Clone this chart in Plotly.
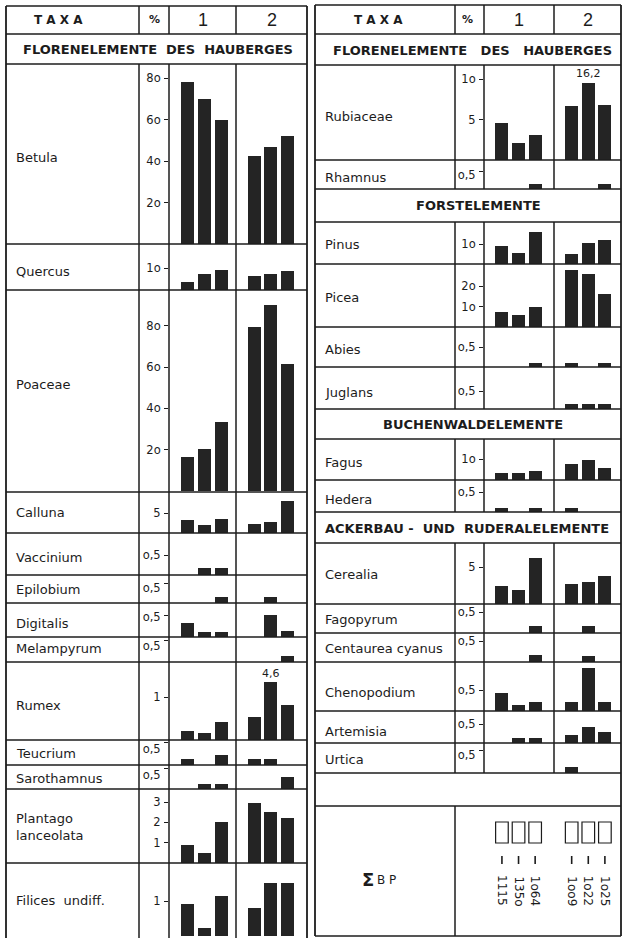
import plotly.graph_objects as go

W, H = 624, 938

# ---- pollen percentages, samples 1a 1b 1c | 2a 2b 2c ----
BETULA = [78, 70, 60, 42.4, 46.7, 52]
QUERCUS = [3.6, 7.3, 9.1, 6.4, 7.3, 8.6]
POACEAE = [16.5, 20.3, 33.4, 79.4, 90, 61.5]
CALLUNA = [3.2, 2.0, 3.5, 2.2, 2.8, 8.0]
VACCINIUM = [0, 0.17, 0.17, 0, 0, 0]
EPILOBIUM = [0, 0, 0.15, 0, 0.15, 0]
DIGITALIS = [0.32, 0.11, 0.11, 0, 0.5, 0.14]
MELAMPYRUM = [0, 0, 0, 0, 0, 0.14]
RUMEX = [0.21, 0.16, 0.42, 0.53, 4.6, 0.81]
TEUCRIUM = [0.13, 0, 0.22, 0.13, 0.13, 0]
SAROTHAMNUS = [0, 0.12, 0.12, 0, 0, 0.29]
PLANTAGO = [0.9, 0.5, 2.0, 2.95, 2.5, 2.2]
FILICES = [0.91, 0.23, 1.14, 0.8, 1.51, 1.51]

RUBIACEAE = [4.6, 2.1, 3.1, 6.7, 16.2, 6.8]
RHAMNUS = [0, 0, 0.14, 0, 0, 0.14]
PINUS = [9, 5.5, 16, 5, 10.5, 12]
PICEA = [7.3, 5.9, 9.8, 27.8, 25.9, 16.1]
ABIES = [0, 0, 0.1, 0.1, 0, 0.1]
JUGLANS = [0, 0, 0, 0.14, 0.14, 0.14]
FAGUS = [3.3, 3.3, 4.3, 7.6, 9.5, 5.7]
HEDERA = [0.1, 0, 0.1, 0.1, 0, 0]
CEREALIA = [2.4, 1.9, 6.2, 2.7, 3.0, 3.8]
FAGOPYRUM = [0, 0, 0.17, 0, 0.17, 0]
CENTAUREA = [0, 0, 0.17, 0, 0.14, 0]
CHENOPODIUM = [0.43, 0.14, 0.21, 0.21, 1.02, 0.21]
ARTEMISIA = [0, 0.13, 0.13, 0.21, 0.42, 0.29]
URTICA = [0, 0, 0, 0.13, 0, 0]

BP_SUMS = [1115, 1350, 1064, 1009, 1022, 1025]

# ---- table geometry (pixels) ----
INK = "#1c1c1c"
BAR = "#242424"
FONT = "DejaVu Sans"

LEFT = dict(x0=6, tax=139, pct=169, mid=236, x1=307,
            slots=[0, 1, 2, 4, 5, 6], xr=[-1.14, 7.17])
RIGHT = dict(x0=315, tax=455, pct=484, mid=554, x1=621,
             slots=[0, 1, 2, 4.2, 5.2, 6.2], xr=[-1.08, 7.17])
BAR_W = 0.78


def fx(px):
    return px / W


def fy(py):
    return 1 - py / H


def tk(*pairs):
    return list(pairs)


# label, values, panel, top, bottom, px per unit, ticks, tick label drop, clip px, label y
ROWS = [
    ("Betula", BETULA, LEFT, 64, 244, 2.075, tk((20, "2o"), (40, "4o"), (60, "6o"), (80, "8o")), 0, None, 157),
    ("Quercus", QUERCUS, LEFT, 244, 290, 2.2, tk((10, "1o"),), 0, None, 271),
    ("Poaceae", POACEAE, LEFT, 290, 491, 2.065, tk((20, "2o"), (40, "4o"), (60, "6o"), (80, "8o")), 0, None, 384),
    ("Calluna", CALLUNA, LEFT, 492, 533, 4.0, tk((5, "5"),), 0, None, 512),
    ("Vaccinium", VACCINIUM, LEFT, 533, 575, 40, tk((0.5, "o,5"),), 0, None, 557),
    ("Epilobium", EPILOBIUM, LEFT, 575, 603, 40, tk((0.5, "o,5"),), 5, None, 589),
    ("Digitalis", DIGITALIS, LEFT, 603, 637, 44, tk((0.5, "o,5"),), 2, None, 623),
    ("Melampyrum", MELAMPYRUM, LEFT, 637, 662, 44, tk((0.5, "o,5"),), 6, None, 648),
    ("Rumex", RUMEX, LEFT, 662, 740, 43, tk((1, "1"),), 0, 682, 705),
    ("Teucrium", TEUCRIUM, LEFT, 740, 765, 46, tk((0.5, "o,5"),), 7, None, 753),
    ("Sarothamnus", SAROTHAMNUS, LEFT, 765, 789, 42, tk((0.5, "o,5"),), 7, None, 778),
    ("Plantago<br>lanceolata", PLANTAGO, LEFT, 789, 863, 20.3, tk((1, "1"), (2, "2"), (3, "3")), 0, None, 827),
    ("Filices  undiff.", FILICES, LEFT, 863, 936, 35, tk((1, "1"),), 0, None, 900),

    ("Rubiaceae", RUBIACEAE, RIGHT, 65, 160, 8.1, tk((5, "5"), (10, "1o")), 0, 83, 117),
    ("Rhamnus", RHAMNUS, RIGHT, 160, 189, 36, tk((0.5, "o,5"),), 4, None, 177),
    ("Pinus", PINUS, RIGHT, 222, 264, 2.0, tk((10, "1o"),), 0, None, 245),
    ("Picea", PICEA, RIGHT, 264, 327, 2.05, tk((10, "1o"), (20, "2o")), 0, None, 297),
    ("Abies", ABIES, RIGHT, 327, 367, 40, tk((0.5, "o,5"),), 0, None, 350),
    ("Juglans", JUGLANS, RIGHT, 367, 409, 36, tk((0.5, "o,5"),), 0, None, 392),
    ("Fagus", FAGUS, RIGHT, 439, 480, 2.1, tk((10, "1o"),), 0, None, 462),
    ("Hedera", HEDERA, RIGHT, 480, 512, 40, tk((0.5, "o,5"),), 0, None, 499),
    ("Cerealia", CEREALIA, RIGHT, 543, 604, 7.4, tk((5, "5"),), 0, None, 574),
    ("Fagopyrum", FAGOPYRUM, RIGHT, 604, 633, 42, tk((0.5, "o,5"),), 0, None, 619),
    ("Centaurea cyanus", CENTAUREA, RIGHT, 633, 662, 42, tk((0.5, "o,5"),), 0, None, 648),
    ("Chenopodium", CHENOPODIUM, RIGHT, 662, 711, 42, tk((0.5, "o,5"),), 0, None, 692),
    ("Artemisia", ARTEMISIA, RIGHT, 711, 743, 38, tk((0.5, "o,5"),), 0, None, 731),
    ("Urtica", URTICA, RIGHT, 743, 773, 46, tk((0.5, "o,5"),), 5, None, 759),
]

fig = go.Figure()
layout = {}
annotations = []
shapes = []
axis_no = 0


def add_axes(panel, top, bottom, ymax, ticks=None, drop=0):
    global axis_no
    axis_no += 1
    n = axis_no
    sx = "" if n == 1 else str(n)
    layout["xaxis" + sx] = dict(
        domain=[fx(panel["pct"]), fx(panel["x1"])], range=panel["xr"],
        anchor="y" + sx, visible=False, fixedrange=True)
    yax = dict(
        domain=[fy(bottom), fy(top)], range=[0, ymax], anchor="x" + sx,
        showgrid=False, zeroline=False, showline=False, fixedrange=True)
    if ticks:
        yax.update(
            tickmode="array", tickvals=[t[0] for t in ticks],
            ticktext=[t[1] for t in ticks], ticks="outside", ticklen=4,
            tickwidth=1.3, tickcolor=INK,
            tickfont=dict(family=FONT, size=11.5, color=INK),
            ticklabelshift=drop, ticklabelstandoff=1)
    else:
        yax.update(showticklabels=False, ticks="")
    layout["yaxis" + sx] = yax
    return "x" + sx, "y" + sx


def note(text, x, y, xref="paper", size=13, family=FONT, xanchor="center", angle=0):
    annotations.append(dict(
        text=text, x=x, y=y, xref=xref, yref="paper", xanchor=xanchor,
        yanchor="middle", align="left", showarrow=False, textangle=angle,
        font=dict(family=family, size=size, color=INK)))


for label, vals, panel, top, bottom, ppu, ticks, drop, clip_px, ly in ROWS:
    ymax = (bottom - top) / ppu
    xa, ya = add_axes(panel, top, bottom, ymax, ticks, drop)
    if clip_px is None:
        shown = list(vals)
        over = None
    else:
        cap = (bottom - clip_px) / ppu
        shown = [v if v <= cap else None for v in vals]
        over = [v if v > cap else None for v in vals]
    fig.add_trace(go.Bar(x=panel["slots"], y=shown, width=BAR_W,
                         marker=dict(color=BAR, line=dict(width=0)),
                         xaxis=xa, yaxis=ya, showlegend=False, hoverinfo="skip"))
    if over is not None:
        xb, yb = add_axes(panel, clip_px, bottom, (bottom - clip_px) / ppu)
        fig.add_trace(go.Bar(x=panel["slots"], y=over, width=BAR_W,
                             marker=dict(color=BAR, line=dict(width=0)),
                             xaxis=xb, yaxis=yb, showlegend=False, hoverinfo="skip"))
        for s, v in zip(panel["slots"], over):
            if v is not None:
                note(f"{v:.1f}".replace(".", ","), s, fy(clip_px - 9), xref=xb, size=11)
    note(label, fx(panel["x0"] + 8), fy(ly), xanchor="left")

# ---- sum of arboreal pollen row ----
xs, ys = add_axes(RIGHT, 806, 936, 1)
for s, bp in zip(RIGHT["slots"], BP_SUMS):
    shapes.append(dict(type="rect", xref=xs, yref="paper",
                       x0=s - 0.38, x1=s + 0.38, y0=fy(843), y1=fy(822),
                       line=dict(color=INK, width=1.2), fillcolor="rgba(0,0,0,0)"))
    shapes.append(dict(type="line", xref=xs, yref="paper", x0=s, x1=s,
                       y0=fy(864), y1=fy(856), line=dict(color=INK, width=1.6)))
    note(str(bp).replace("0", "o"), s, fy(891), xref=xs, size=12, angle=90)
note("<b>Σ</b>", fx(368), fy(879), size=18)
note("B P", fx(386), fy(880), size=12)

# ---- header texts ----
for p, tx, pc in ((LEFT, 58, 154), (RIGHT, 378, 467)):
    note("<b>T A X A</b>", fx(tx), fy(20), size=12)
    note("<b>%</b>", fx(pc), fy(20), size=11)
    note("1", fx((p["pct"] + p["mid"]) / 2), fy(20), size=18, family="Liberation Sans")
    note("2", fx((p["mid"] + p["x1"]) / 2), fy(20), size=18, family="Liberation Sans")

note("<b>FLORENELEMENTE  DES  HAUBERGES</b>", fx(158), fy(49), size=13)
note("<b>FLORENELEMENTE   DES   HAUBERGES</b>", fx(472), fy(50), size=13)
note("<b>FORSTELEMENTE</b>", fx(478), fy(206), size=13)
note("<b>BUCHENWALDELEMENTE</b>", fx(473), fy(424), size=13)
note("<b>ACKERBAU -  UND  RUDERALELEMENTE</b>", fx(467), fy(528), size=13)


# ---- table rules ----
def hline(y, x0, x1, w=1.5):
    shapes.append(dict(type="line", xref="paper", yref="paper", x0=fx(x0), x1=fx(x1),
                       y0=fy(y), y1=fy(y), line=dict(color=INK, width=w)))


def vline(x, y0, y1, w=1.5):
    shapes.append(dict(type="line", xref="paper", yref="paper", x0=fx(x), x1=fx(x),
                       y0=fy(y0), y1=fy(y1), line=dict(color=INK, width=w)))


for y in [6, 34, 64, 244, 290, 492, 533, 575, 603, 637, 662, 740, 765, 789, 863]:
    hline(y, LEFT["x0"], LEFT["x1"])
vline(LEFT["x0"], 6, 938, 1.8)
vline(LEFT["x1"], 6, 938, 1.8)
for x in (LEFT["tax"], LEFT["pct"], LEFT["mid"]):
    vline(x, 6, 34)
    vline(x, 64, 938)

for y in [5, 34, 65, 160, 189, 222, 264, 327, 367, 409, 439, 480, 512, 543,
          604, 633, 662, 711, 743, 773, 806, 936]:
    hline(y, RIGHT["x0"], RIGHT["x1"])
vline(RIGHT["x0"], 5, 936, 1.8)
vline(RIGHT["x1"], 5, 936, 1.8)
segs = [(5, 34), (65, 189), (222, 409), (439, 512), (543, 773)]
for x in (RIGHT["tax"], RIGHT["pct"], RIGHT["mid"]):
    for a, b in segs:
        vline(x, a, b)
vline(RIGHT["tax"], 806, 936)

fig.update_layout(
    width=W, height=H, margin=dict(l=0, r=0, t=0, b=0),
    paper_bgcolor="white", plot_bgcolor="rgba(0,0,0,0)",
    showlegend=False, bargap=0, annotations=annotations, shapes=shapes,
    **layout)

fig.write_html("out.html")
